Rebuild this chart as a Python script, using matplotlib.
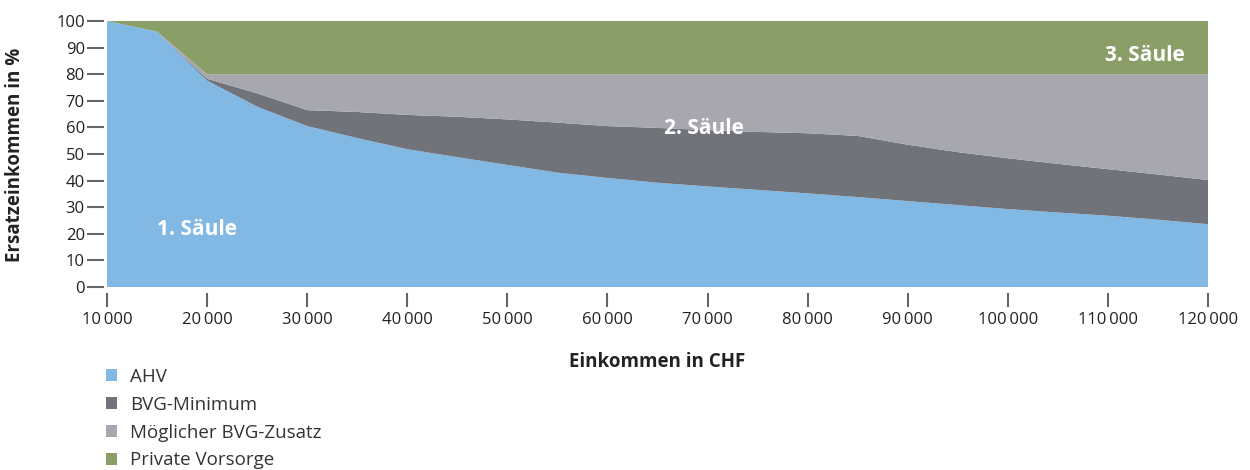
import matplotlib
matplotlib.use("Agg")
import matplotlib.pyplot as plt
from matplotlib.ticker import FuncFormatter, MultipleLocator
from matplotlib.patches import Patch

plt.rcParams['font.family'] = ['Open Sans', 'DejaVu Sans']

# Einkommen in CHF
income = [10000, 15000, 20000, 25000, 30000, 35000, 40000, 45000, 50000, 55000,
          60000, 65000, 70000, 75000, 80000, 85000, 90000, 95000, 100000, 105000,
          110000, 115000, 120000]

# Ersatzeinkommen je Vorsorgeteil in %
ahv = [100, 96, 77.6, 67.8, 60.5, 56.0, 51.8, 48.8, 45.9, 43.0, 41.0, 39.2, 37.8,
       36.5, 35.2, 33.8, 32.3, 30.8, 29.3, 28.0, 26.8, 25.3, 23.6]
bvg_minimum = [0, 0, 0.7, 5.0, 6.0, 9.8, 12.9, 15.2, 17.1, 18.8, 19.5, 20.6, 21.2,
               21.8, 22.6, 23.0, 21.2, 19.9, 19.1, 18.3, 17.5, 17.0, 16.6]
bvg_zusatz = [0, 0, 1.7, 7.2, 13.5, 14.2, 15.3, 16.0, 17.0, 18.2, 19.5, 20.2, 21.0,
              21.7, 22.2, 23.2, 26.5, 29.3, 31.6, 33.7, 35.7, 37.7, 39.8]
private_vorsorge = [0, 4, 20, 20, 20, 20, 20, 20, 20, 20, 20, 20, 20, 20, 20, 20,
                    20, 20, 20, 20, 20, 20, 20]

series_labels = ["AHV", "BVG-Minimum", "Möglicher BVG-Zusatz", "Private Vorsorge"]
colors = ["#82b8e4", "#71737b", "#a6a7af", "#8a9e68"]

W, H = 1250, 470
fig = plt.figure(figsize=(W / 100, H / 100), dpi=100)
ax = fig.add_axes([107 / W, 1 - 287 / H, (1208 - 107) / W, (287 - 21) / H])

ax.stackplot(income, ahv, bvg_minimum, bvg_zusatz, private_vorsorge,
             colors=colors, linewidth=0)

ax.set_xlim(10000, 120000)
ax.set_ylim(0, 100)
ax.xaxis.set_major_locator(MultipleLocator(10000))
ax.yaxis.set_major_locator(MultipleLocator(10))
ax.xaxis.set_major_formatter(FuncFormatter(lambda v, p: f"{int(v):,}".replace(",", "\u2009")))

for side in ["top", "right", "left", "bottom"]:
    ax.spines[side].set_visible(False)
ax.spines['left'].set_position(('outward', 2))
ax.spines['bottom'].set_position(('outward', 4))

ax.tick_params(axis='y', length=12, width=1.5, color="#666666", labelsize=12,
               labelcolor="#222222", pad=2)
ax.tick_params(axis='x', length=10, width=1.5, color="#666666", labelsize=12,
               labelcolor="#222222", pad=4)

fig.text(657 / W, 1 - 362 / H, "Einkommen in CHF", fontsize=13.5,
         fontweight="bold", color="#222222", ha="center", va="center")
fig.text(15 / W, 1 - 155 / H, "Ersatzeinkommen in %", fontsize=13.5,
         fontweight="bold", color="#222222", ha="center", va="center",
         rotation=90)

ax.text(19000, 21.8, "1. Säule", color="white", fontsize=15, fontweight="bold",
        ha="center", va="center")
ax.text(69600, 59.4, "2. Säule", color="white", fontsize=15, fontweight="bold",
        ha="center", va="center")
ax.text(113700, 87.2, "3. Säule", color="white", fontsize=15, fontweight="bold",
        ha="center", va="center")

handles = [Patch(facecolor=c, edgecolor="none") for c in colors]
fig.legend(handles, series_labels, loc="upper left",
           bbox_to_anchor=(106 / W, 1 - 368 / H), frameon=False,
           fontsize=13.5, labelcolor="#333333", handlelength=0.6,
           handleheight=0.6, handletextpad=0.7, labelspacing=0.52,
           borderpad=0, borderaxespad=0)

fig.savefig("out.png", dpi=100)
